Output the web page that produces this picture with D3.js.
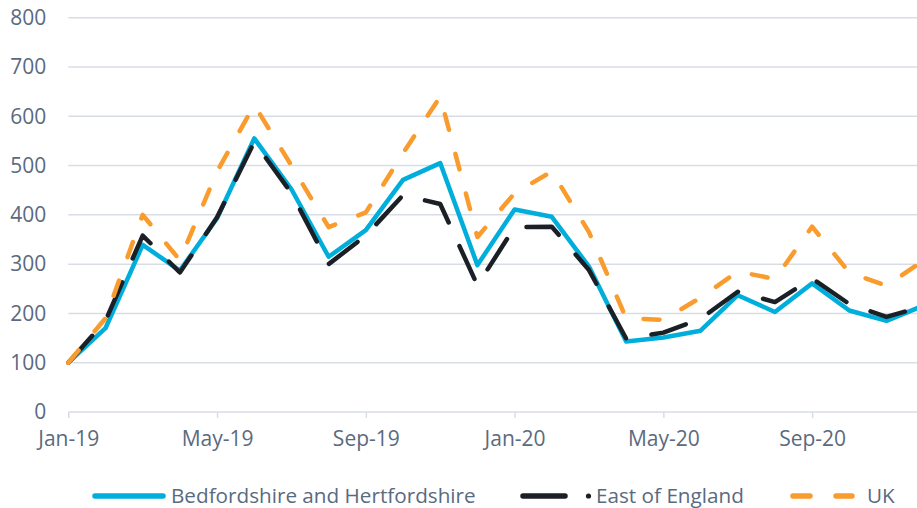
<!DOCTYPE html>
<html>
<head>
<meta charset="utf-8">
<script src="https://cdn.jsdelivr.net/npm/d3@7"></script>
<style>
  body { margin: 0; background: #fff; }
  text { font-family: "Open Sans", sans-serif; fill: #5a6a80; }
</style>
</head>
<body>
<div id="chart"></div>
<script>
// months shown on the x axis (Jan-19 .. Dec-20)
var months = ["Jan-19", "Feb-19", "Mar-19", "Apr-19", "May-19", "Jun-19", "Jul-19", "Aug-19",
    "Sep-19", "Oct-19", "Nov-19", "Dec-19", "Jan-20", "Feb-20", "Mar-20", "Apr-20",
    "May-20", "Jun-20", "Jul-20", "Aug-20", "Sep-20", "Oct-20", "Nov-20", "Dec-20"];
var tickLabels = ["Jan-19", "May-19", "Sep-19", "Jan-20", "May-20", "Sep-20"];
var yTicks = [0, 100, 200, 300, 400, 500, 600, 700, 800];

// series values
var bedsHerts = [100, 170, 339, 287, 393, 555, 452, 315, 369, 471, 505, 298,
    411, 396, 295, 143, 151, 165, 237, 203, 261, 206, 185, 216];
var eastEngland = [100, 185, 358, 283, 395, 548, 444, 300, 358, 440, 422, 257,
    375, 376, 288, 149, 161, 189, 244, 223, 271, 219, 193, 215];
var uk = [100, 190, 400, 308, 488, 623, 500, 375, 405, 525, 640, 355,
    444, 488, 365, 190, 187, 232, 285, 270, 376, 283, 256, 308];

var seriesNames = ["Bedfordshire and Hertfordshire", "East of England", "UK"];

var blue = "#00aedb", dark = "#1b2027", orange = "#f99b2d";
var gridColor = "#d8dde5";

var W = 917, H = 508;

var svg = d3.select("#chart")
    .append("svg")
    .attr("width", W)
    .attr("height", H);

// scales - the plot runs a little past the right edge, as in the picture
var x = d3.scaleLinear()
    .domain([0, months.length - 1])
    .range([68.3, 923.7]);
var y = d3.scaleLinear()
    .domain([0, 800])
    .range([412, 17.7]);

// gridlines
svg.append("g")
    .selectAll("line")
    .data(yTicks)
    .enter()
    .append("line")
    .attr("x1", x(0))
    .attr("x2", W)
    .attr("y1", function (d) { return y(d); })
    .attr("y2", function (d) { return y(d); })
    .attr("stroke", gridColor)
    .attr("stroke-width", 1.5);

// y axis labels
var yAxis = svg.append("g")
    .attr("transform", "translate(" + (x(0) - 22) + ",0)")
    .call(d3.axisLeft(y).tickValues(yTicks).tickSize(0).tickPadding(0));
yAxis.select(".domain").remove();
yAxis.selectAll("text")
    .style("font-size", "21px")
    .style("font-family", "Open Sans")
    .attr("fill", "#5a6a80");

// x axis ticks + labels
var xAxis = svg.append("g")
    .attr("transform", "translate(0," + y(0) + ")")
    .call(d3.axisBottom(x)
        .tickValues(tickLabels.map(function (t) { return months.indexOf(t); }))
        .tickFormat(function (i) { return months[i]; })
        .tickSize(6)
        .tickPadding(13));
xAxis.select(".domain").remove();
xAxis.selectAll("line").attr("stroke", gridColor).attr("stroke-width", 1.5);
xAxis.selectAll("text")
    .style("font-size", "21px")
    .style("font-family", "Open Sans")
    .attr("fill", "#5a6a80");

// lines
var line = d3.line()
    .x(function (d, i) { return x(i); })
    .y(function (d) { return y(d); });

svg.append("path")
    .datum(bedsHerts)
    .attr("fill", "none")
    .attr("stroke", blue)
    .attr("stroke-width", 4.5)
    .attr("stroke-linejoin", "round")
    .attr("d", line);

svg.append("path")
    .datum(eastEngland)
    .attr("fill", "none")
    .attr("stroke", dark)
    .attr("stroke-width", 4.5)
    .attr("stroke-linecap", "round")
    .attr("stroke-linejoin", "round")
    .attr("stroke-dasharray", "36,26")
    .attr("d", line);

svg.append("path")
    .datum(uk)
    .attr("fill", "none")
    .attr("stroke", orange)
    .attr("stroke-width", 4.5)
    .attr("stroke-linecap", "round")
    .attr("stroke-linejoin", "round")
    .attr("stroke-dasharray", "16,25")
    .attr("d", line);

// legend
var legend = svg.append("g").attr("transform", "translate(0,496)");

legend.append("line")
    .attr("x1", 95).attr("x2", 163)
    .attr("stroke", blue).attr("stroke-width", 5.5).attr("stroke-linecap", "round");
legend.append("text")
    .attr("x", 171).attr("y", 7)
    .style("font-size", "20.7px")
    .text(seriesNames[0]);

legend.append("line")
    .attr("x1", 523).attr("x2", 565)
    .attr("stroke", dark).attr("stroke-width", 5.5).attr("stroke-linecap", "round");
legend.append("circle")
    .attr("cx", 588.5).attr("cy", 0).attr("r", 2.6)
    .attr("fill", dark);
legend.append("text")
    .attr("x", 596).attr("y", 7)
    .style("font-size", "20.7px")
    .text(seriesNames[1]);

legend.append("line")
    .attr("x1", 793).attr("x2", 810)
    .attr("stroke", orange).attr("stroke-width", 5.5).attr("stroke-linecap", "round");
legend.append("line")
    .attr("x1", 836).attr("x2", 852)
    .attr("stroke", orange).attr("stroke-width", 5.5).attr("stroke-linecap", "round");
legend.append("text")
    .attr("x", 867).attr("y", 7)
    .style("font-size", "20.7px")
    .text(seriesNames[2]);
</script>
</body>
</html>
